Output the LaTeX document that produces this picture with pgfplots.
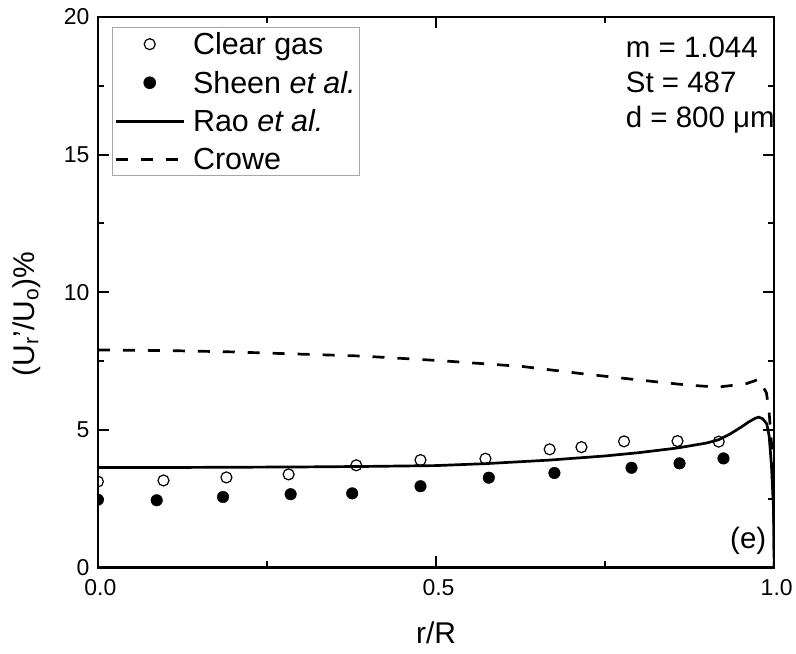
\documentclass[border=0pt]{standalone}
\usepackage{fontspec}
\setmainfont{Liberation Sans}
\usepackage{pgfplots}
\pgfplotsset{compat=1.18}
\begin{document}
\begin{tikzpicture}
\begin{axis}[
  name=ax,
  scale only axis,
  width=677pt, height=551pt,
  xmin=0, xmax=1, ymin=0, ymax=20,
  xtick={0,0.5,1}, xticklabels={0.0,0.5,1.0},
  ytick={0,5,10,15,20},
  minor tick num=1,
  tick align=inside,
  tick pos=both,
  major tick length=11pt, minor tick length=6pt,
  every tick/.style={line width=2pt, black},
  axis line style={line width=2.5pt},
  /pgf/number format/assume math mode=true,
  tick label style={font=\fontsize{23}{27}\selectfont},
  xticklabel style={yshift=-9pt, xshift=2.5pt},
  yticklabel style={xshift=-5pt},
  xlabel={r/R},
  ylabel={(U\textsubscript{r}'/U\textsubscript{o})\%},
  label style={font=\fontsize{30}{34}\selectfont},
  xlabel style={at={(axis description cs:0.5,-0.118)}, anchor=center},
  ylabel style={at={(axis description cs:-0.105,0.46)}, anchor=center},
  clip marker paths=true,
  legend image code/.code={\draw[mark repeat=2,mark phase=2,#1] plot coordinates {(0pt,0pt) (34pt,0pt) (68pt,0pt)};},
  legend cell align=left,
  legend style={at={(0.0207,0.982)}, anchor=north west, draw=gray!70, line width=1pt,
    font=\fontsize{30.5}{34}\selectfont, inner xsep=2pt, inner ysep=3pt, row sep=11pt,
    /tikz/every odd column/.append style={column sep=6pt}},
]
\addplot[only marks, mark=o, mark size=5.5pt, mark options={line width=1.2pt, black}] coordinates {
(0,3.12) (0.097,3.16) (0.19,3.27) (0.282,3.38) (0.382,3.71) (0.477,3.90)
(0.573,3.95) (0.668,4.29) (0.715,4.37) (0.778,4.58) (0.857,4.59) (0.918,4.57)
};
\addlegendentry{Clear gas}
\addplot[only marks, mark=*, mark size=5.8pt, mark options={black, fill=black}] coordinates {
(0,2.46) (0.087,2.44) (0.185,2.56) (0.285,2.66) (0.376,2.69) (0.477,2.95)
(0.578,3.26) (0.675,3.43) (0.789,3.62) (0.86,3.78) (0.925,3.96)
};
\addlegendentry{Sheen \textit{et al.}}
\addplot[black, line width=2.7pt, no marks] coordinates {
(0,3.63) (0.1,3.63) (0.2,3.64) (0.3,3.65) (0.4,3.67) (0.5,3.70) (0.573,3.77)
(0.668,3.90) (0.75,4.05) (0.8,4.17) (0.857,4.34) (0.9,4.52) (0.918,4.64)
(0.935,4.85) (0.95,5.08) (0.962,5.28) (0.972,5.42) (0.977,5.46) (0.983,5.40)
(0.989,5.22) (0.9926,4.76) (0.996,3.67) (0.999,2.1) (1.0,0)
};
\addlegendentry{Rao \textit{et al.}}
\addplot[black, line width=2.7pt, no marks, dash pattern=on 12pt off 13pt] coordinates {
(0,7.90) (0.1,7.88) (0.2,7.83) (0.26,7.78) (0.39,7.68) (0.508,7.51) (0.628,7.30)
(0.712,7.05) (0.80,6.81) (0.87,6.63) (0.916,6.55) (0.958,6.67) (0.978,6.84)
(0.9886,6.33) (0.9926,5.6) (0.996,4.5) (0.999,2.7) (1.0,0)
};
\addlegendentry{Crowe}
\node[anchor=base west, font=\fontsize{29.5}{33}\selectfont] at (rel axis cs:0.7755,0.9256) {m = 1.044};
\node[anchor=base west, font=\fontsize{29.5}{33}\selectfont] at (rel axis cs:0.7755,0.862) {St = 487};
\node[anchor=base west, font=\fontsize{29.5}{33}\selectfont] at (rel axis cs:0.7755,0.7985) {d = 800 μm};
\node[anchor=base, font=\fontsize{29.5}{33}\selectfont] at (rel axis cs:0.9616,0.0345) {(e)};
\end{axis}
\path ([shift={(-98pt,-86pt)}]ax.south west) rectangle ([shift={(21pt,17pt)}]ax.north east);
\end{tikzpicture}
\end{document}
